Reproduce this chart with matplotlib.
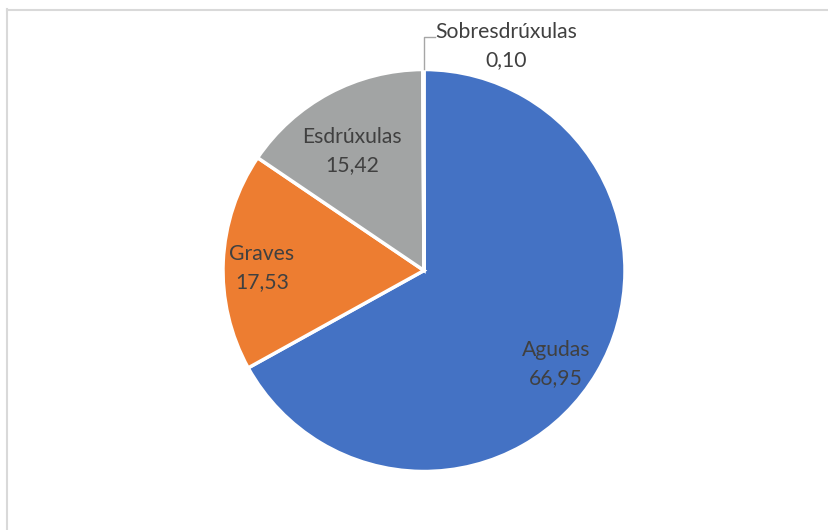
import matplotlib
matplotlib.use("Agg")
import matplotlib.pyplot as plt
from matplotlib.lines import Line2D

categories = ["Agudas", "Graves", "Esdrúxulas", "Sobresdrúxulas"]
values = [66.95, 17.53, 15.42, 0.10]
value_labels = ["66,95", "17,53", "15,42", "0,10"]
colors = ["#4472C4", "#ED7D31", "#A2A4A4", "#FFC000"]

plt.rcParams['font.family'] = ['Lato', 'DejaVu Sans']

W, H = 829, 530
fig = plt.figure(figsize=(W / 100, H / 100), dpi=100)
fig.patch.set_facecolor("white")

# border (light gray frame)
border_c = "#D9D9D9"
fig.add_artist(Line2D([7.5 / W, 7.5 / W], [0, 1 - 9 / H], transform=fig.transFigure, color=border_c, lw=1.5))
fig.add_artist(Line2D([7 / W, 1], [1 - 9.5 / H, 1 - 9.5 / H], transform=fig.transFigure, color=border_c, lw=1.5))

cx, cy, r = 424, 270.5, 201
ax = fig.add_axes([(cx - r) / W, (H - cy - r) / H, 2 * r / W, 2 * r / H])
ax.pie(values, colors=colors, startangle=90, counterclock=False,
       wedgeprops=dict(edgecolor="white", linewidth=2.5), radius=1)
ax.set_xlim(-1, 1)
ax.set_ylim(-1, 1)
ax.set_aspect("auto")
ax.axis("off")

txt_c = "#404040"
fs = 15.2
label_pos = [(0.657, -0.465), (-0.806, 0.01), (-0.358, 0.595), (0.41, 1.115)]
for name, val, (x, y) in zip(categories, value_labels, label_pos):
    ax.text(x, y, f"{name}\n{val}", ha="center", va="center", fontsize=fs,
            color=txt_c, linespacing=1.5, clip_on=False)

# leader line for the tiny slice
ax.add_line(Line2D([0.0, 0.0, 0.055], [1.0, 1.16, 1.16], color="#A6A6A6", lw=1, clip_on=False))

fig.savefig("out.png", dpi=100, facecolor="white")
